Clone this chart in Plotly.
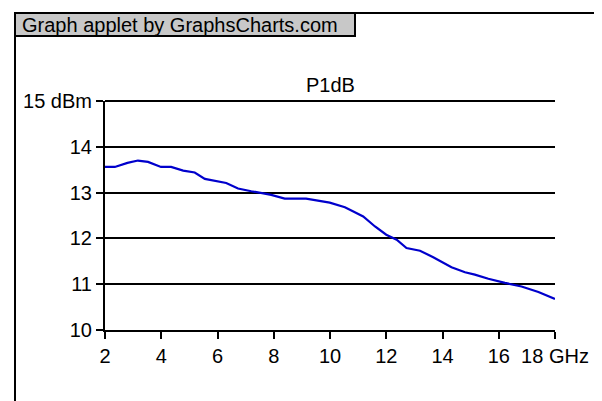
import plotly.graph_objects as go

freq_ghz = [2.0, 2.35, 2.8, 3.17, 3.53, 3.99, 4.35, 4.78, 5.19, 5.55, 6.31, 6.73,
            7.2, 7.91, 8.39, 9.15, 9.99, 10.53, 10.76, 11.18, 11.6, 12.0, 12.37,
            12.72, 13.2, 13.67, 14.32, 14.8, 15.15, 15.63, 16.22, 16.81, 17.41, 18.0]
p1db_dbm = [13.56, 13.56, 13.65, 13.70, 13.67, 13.56, 13.56, 13.48, 13.44, 13.30,
            13.21, 13.09, 13.03, 12.95, 12.87, 12.87, 12.78, 12.68, 12.61, 12.48,
            12.26, 12.08, 11.97, 11.79, 11.73, 11.59, 11.37, 11.26, 11.21, 11.12,
            11.03, 10.95, 10.83, 10.68]

x_tick_vals = [2, 4, 6, 8, 10, 12, 14, 16, 18]
x_tick_text = ["2", "4", "6", "8", "10", "12", "14", "16", "18 GHz"]
y_tick_vals = [10, 11, 12, 13, 14, 15]
y_tick_text = ["10", "11", "12", "13", "14", "15 dBm"]
chart_title = "P1dB"
header_text = "Graph applet by GraphsCharts.com"

W, H = 602, 401
L, R, T, B = 97, 547, 93, 322  # plot area in pixels


def px(x):
    return (x - L) / (R - L)


def py(y):
    return (B - y) / (B - T)


FONT = "Liberation Sans, Arial, sans-serif"

fig = go.Figure()
fig.add_trace(go.Scatter(x=freq_ghz, y=p1db_dbm, mode="lines",
                         line=dict(color="#0000CC", width=2.2), hoverinfo="skip"))

fig.update_layout(
    width=W, height=H,
    margin=dict(l=L, r=W - R, t=T, b=H - B, pad=0),
    paper_bgcolor="white", plot_bgcolor="white",
    showlegend=False,
    font=dict(family=FONT, size=20, color="black"),
    xaxis=dict(range=[2, 18], tickvals=x_tick_vals, ticktext=x_tick_text,
               showgrid=False, zeroline=False, showline=True, linecolor="black",
               linewidth=2, ticks="outside", ticklen=7, tickwidth=2,
               tickcolor="black", tickfont=dict(family=FONT, size=20)),
    yaxis=dict(range=[10, 15], tickvals=y_tick_vals, ticktext=y_tick_text,
               showgrid=True, gridcolor="black", gridwidth=2, zeroline=False,
               showline=True, linecolor="black", linewidth=2, ticks="outside",
               ticklen=7, tickwidth=2, tickcolor="black",
               tickfont=dict(family=FONT, size=20)),
    shapes=[
        dict(type="rect", xref="paper", yref="paper",
             x0=px(7), x1=px(620), y0=py(420), y1=py(5),
             line=dict(color="black", width=2), fillcolor="rgba(0,0,0,0)", layer="below"),
        dict(type="rect", xref="paper", yref="paper",
             x0=px(7), x1=px(347), y0=py(28), y1=py(5),
             line=dict(color="black", width=2), fillcolor="#C8C8C8", layer="above"),
        # top gridline at the upper end of the y range (paper ref, so not clipped)
        dict(type="line", xref="paper", yref="paper", x0=0, x1=1, y0=1, y1=1,
             line=dict(color="black", width=2), layer="below"),
    ],
    annotations=[
        dict(text=header_text, xref="paper", yref="paper", x=px(12), y=py(17),
             xanchor="left", yanchor="middle", showarrow=False,
             font=dict(family=FONT, size=20, color="black")),
        dict(text=chart_title, xref="paper", yref="paper", x=0.5, y=py(77),
             xanchor="center", yanchor="middle", showarrow=False,
             font=dict(family=FONT, size=20, color="black")),
    ],
)

fig.write_html("out.html")
